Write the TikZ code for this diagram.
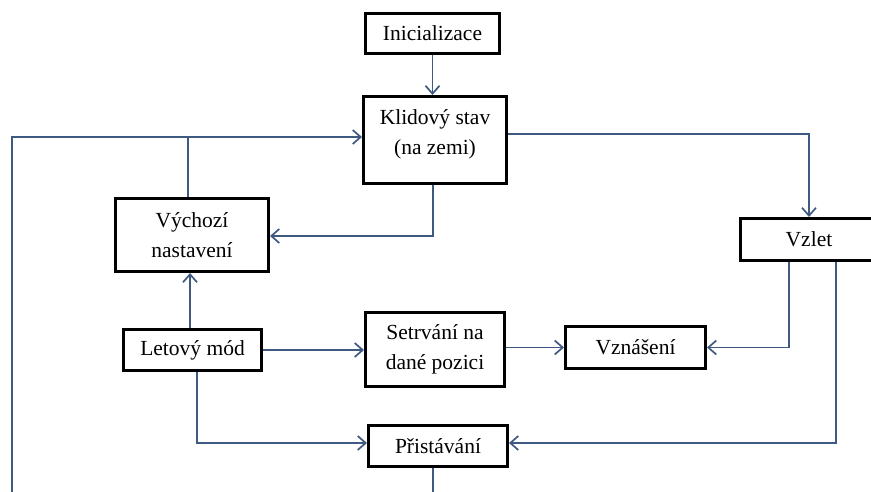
\documentclass[tikz,border=0pt]{standalone}
\usepackage{fontspec}
\setmainfont{Liberation Serif}
\usetikzlibrary{arrows.meta}
\definecolor{linkc}{HTML}{3F5A80}
\begin{document}
\begin{tikzpicture}[x=1pt,y=-1pt,
  box/.style={draw=black, line width=3pt, fill=white, inner sep=0pt, align=center,
    font=\fontsize{21.5}{30}\selectfont},
  link/.style={draw=linkc, line width=1.9pt,
    -{Straight Barb[length=8pt,width=14pt,line width=1.7pt]}},
  plain/.style={draw=linkc, line width=1.9pt}]
\path[use as bounding box, clip] (0,0) rectangle (871,492);

% state boxes
\node[box, minimum width=134pt, minimum height=40pt] (init) at (432.5,33.5) {Inicializace};
\node[box, minimum width=143pt, minimum height=87pt,
  label={[name=klidtxt, font=\fontsize{21.5}{30}\selectfont, align=center, yshift=6pt]center:Klidový stav\\(na zemi)}]
  (klid) at (435,140) {};
\node[box, minimum width=153pt, minimum height=73pt] (vych) at (192,235) {Výchozí\\nastavení};
\node[box, minimum width=137pt, minimum height=42pt] (vzlet) at (809,239.5) {Vzlet};
\node[box, minimum width=138pt, minimum height=41pt] (let) at (192.5,350) {Letový mód};
\node[box, minimum width=139pt, minimum height=74pt] (setr) at (435,349.5) {Setrvání na\\dané pozici};
\node[box, minimum width=140pt, minimum height=42pt] (vzn) at (635.5,347.5) {Vznášení};
\node[box, minimum width=139pt, minimum height=41pt] (pri) at (438,446) {Přistávání};

% helper points for the routed lines
\coordinate (loopL) at (12,137);
\coordinate (loopB) at (433,510);
\coordinate (vzA) at (789,0);
\coordinate (vzB) at (836,0);

% transitions
\draw[link] (init.south) -- (init.south |- klid.north);
\draw[link] ([xshift=-2pt]klid.south) |- ([yshift=-1pt]vych.east);
\draw[link] ([yshift=6pt]klid.east) -| (vzlet.north);
\draw[link] (vzlet.south -| vzA) |- (vzn.east);
\draw[link] (vzlet.south -| vzB) |- ([yshift=3pt]pri.east);
\draw[link] ([xshift=-2.5pt]let.north) -- ([xshift=-2pt]vych.south);
\draw[link] (let.east) -- (let.east -| setr.west);
\draw[link] (setr.east |- vzn.west) -- (vzn.west);
\draw[link] ([xshift=4.5pt]let.south) |- ([yshift=3pt]pri.west);
\draw[link] (pri.south -| loopB) -- (loopB) -| (loopL) -- (loopL -| klid.west);
\draw[plain] ([xshift=-4pt]vych.north) -- ([xshift=-4pt]vych.north |- loopL);
\end{tikzpicture}
\end{document}
